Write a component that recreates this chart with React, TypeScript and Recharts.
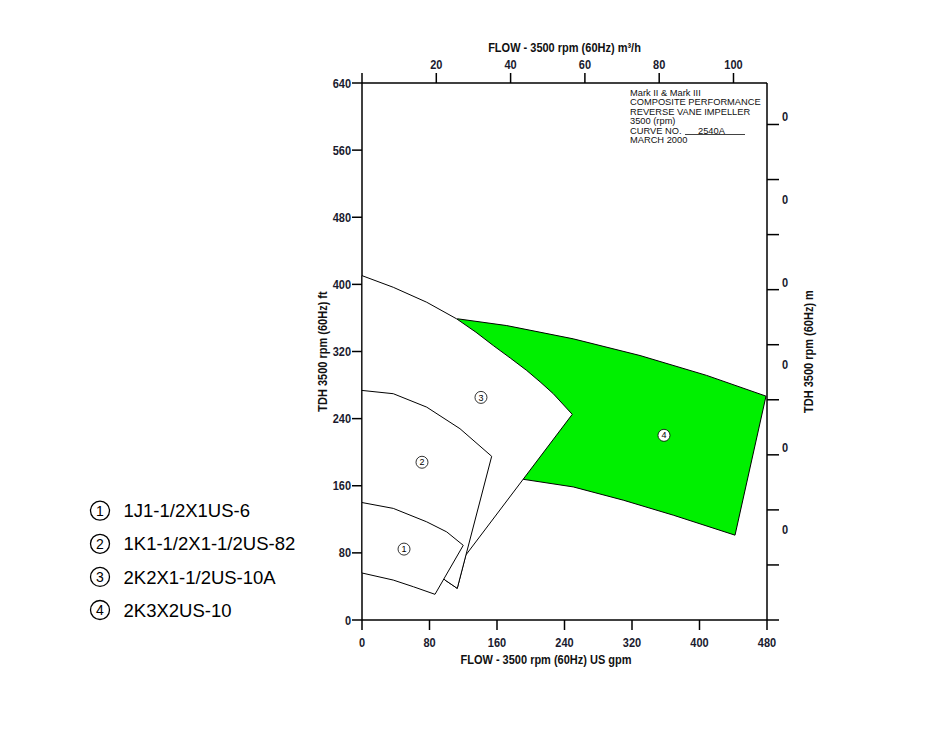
import React from "react";
import { ComposedChart, Scatter, XAxis, YAxis, Label } from "recharts";

// pump operating regions (flow in US gpm, head in ft)
const region1 = [
  { gpm: 0, ft: 56 }, { gpm: 37, ft: 47.6 }, { gpm: 61, ft: 39.6 }, { gpm: 86.5, ft: 30.6 },
  { gpm: 120, ft: 89 }, { gpm: 100.4, ft: 105 }, { gpm: 76.7, ft: 117 }, { gpm: 37.1, ft: 133 }, { gpm: 0, ft: 140 },
];
const region2 = [
  { gpm: 0, ft: 273.6 }, { gpm: 37.1, ft: 269.7 }, { gpm: 76.7, ft: 253.7 }, { gpm: 116.1, ft: 228 },
  { gpm: 153.7, ft: 195.1 }, { gpm: 112.9, ft: 37.7 }, { gpm: 98.4, ft: 47.6 }, { gpm: 0, ft: 140 },
];
const region3 = [
  { gpm: 0, ft: 410.4 }, { gpm: 37.1, ft: 396.5 }, { gpm: 76.7, ft: 378.7 }, { gpm: 112.2, ft: 358.9 },
  { gpm: 135, ft: 343 }, { gpm: 155.6, ft: 327.1 }, { gpm: 176, ft: 312 }, { gpm: 195.2, ft: 297.4 },
  { gpm: 212, ft: 283 }, { gpm: 226.7, ft: 269.7 }, { gpm: 249.2, ft: 245.1 },
  { gpm: 123, ft: 77.3 }, { gpm: 112.9, ft: 37.7 }, { gpm: 98.4, ft: 47.6 }, { gpm: 0, ft: 273.6 },
];
const region4 = [
  { gpm: 113, ft: 359 }, { gpm: 171.5, ft: 350.9 }, { gpm: 250.4, ft: 335.1 }, { gpm: 329.5, ft: 315.2 },
  { gpm: 408.5, ft: 291.5 }, { gpm: 478.8, ft: 266.8 }, { gpm: 442.1, ft: 101.1 }, { gpm: 369, ft: 124.9 },
  { gpm: 309.7, ft: 142.8 }, { gpm: 250.4, ft: 158.6 }, { gpm: 191, ft: 167.7 },
];
const regionMarks = [
  { gpm: 49.8, ft: 84.5, n: 1 },
  { gpm: 71.1, ft: 188, n: 2 },
  { gpm: 141, ft: 265.3, n: 3 },
  { gpm: 357.9, ft: 220.1, n: 4 },
];

const models = ["1J1-1/2X1US-6", "1K1-1/2X1-1/2US-82", "2K2X1-1/2US-10A", "2K3X2US-10"];
const notes = ["Mark II & Mark III", "COMPOSITE PERFORMANCE", "REVERSE VANE IMPELLER", "3500 (rpm)", "CURVE NO.", "MARCH 2000"];
const curveNo = "2540A";

const gpmTicks = [0, 80, 160, 240, 320, 400, 480];
const ftTicks = [0, 80, 160, 240, 320, 400, 480, 560, 640];
const m3hTicks = [0, 20, 40, 60, 80, 100];
const mTicks = [0, 20, 40, 60, 80, 100, 120, 140, 160, 180];
const mLabelTicks = [30, 60, 90, 120, 150, 180];
const mLabels = ["0", "0", "0", "0", "0", "0"];

// unit conversions for the secondary axes
const GPM_PER_M3H = 4.4029;
const FT_PER_M = 3.2808;
const metricMarks = regionMarks.map((p) => ({ m3h: p.gpm / GPM_PER_M3H, m: p.ft / FT_PER_M }));

const W = 900;
const H = 700;
const sans = "'Liberation Sans', Arial, Helvetica, sans-serif";
const boldFont = { fontFamily: sans, fontWeight: 700, fontSize: 12.5, fill: "#1a1a2e" };
const axisStroke = { stroke: "#000", strokeWidth: 1.5 };
const squeeze = 0.88;

const axisTitle = (text: string, dx: number, dy: number, angle = 0) => (props: any) => {
  const vb = props.viewBox || {};
  const cx = vb.x + vb.width / 2 + dx;
  const cy = vb.y + vb.height / 2 + dy;
  return (
    <text
      x={0}
      y={0}
      dy="0.36em"
      textAnchor="middle"
      transform={`translate(${cx},${cy}) rotate(${angle}) scale(${squeeze},1)`}
      style={{ ...boldFont, fill: "#111" }}
    >
      {text}
    </text>
  );
};

// condensed bold tick label; shift puts the baseline relative to the tick point
const makeTick = (shift: number, format?: (v: number) => string) => (props: any) => {
  const { x, y, payload, textAnchor } = props;
  const v = payload.value;
  const s = format ? format(v) : String(v);
  return (
    <text x={0} y={0} textAnchor={textAnchor} transform={`translate(${x},${y + shift}) scale(${squeeze},1)`} style={boldFont}>
      {s}
    </text>
  );
};

const polygon = (fill: string) => (props: any) => {
  const pts = (props.points || []).filter((p: any) => p.x != null && p.y != null);
  if (!pts.length) return <g />;
  const d = "M" + pts.map((p: any) => `${p.x},${p.y}`).join("L") + "Z";
  return <path d={d} fill={fill} stroke="#000" strokeWidth={1} strokeLinejoin="round" />;
};

const noDot = () => <g />;

const markShape = (props: any) => {
  const { cx, cy, payload } = props;
  return (
    <g>
      <circle cx={cx} cy={cy} r={6} fill="#fff" stroke="#000" strokeWidth={0.8} />
      <text x={cx} y={cy} dy="0.35em" textAnchor="middle" style={{ fontFamily: sans, fontSize: 9 }}>
        {payload.n}
      </text>
    </g>
  );
};

export default function App() {
  return (
    <div style={{ position: "relative", width: W, height: H }}>
      <ComposedChart width={W} height={H} margin={{ top: 35, right: 79, bottom: 38, left: 294 }}>
        <Scatter data={region4} xAxisId="gpm" yAxisId="ft" line={polygon("#00f000")} shape={noDot} isAnimationActive={false} legendType="none" />
        <Scatter data={region3} xAxisId="gpm" yAxisId="ft" line={polygon("#fff")} shape={noDot} isAnimationActive={false} legendType="none" />
        <Scatter data={region2} xAxisId="gpm" yAxisId="ft" line={polygon("#fff")} shape={noDot} isAnimationActive={false} legendType="none" />
        <Scatter data={region1} xAxisId="gpm" yAxisId="ft" line={polygon("#fff")} shape={noDot} isAnimationActive={false} legendType="none" />
        <Scatter data={regionMarks} xAxisId="gpm" yAxisId="ft" shape={markShape} isAnimationActive={false} legendType="none" />
        {/* same marks in metric units, invisible; ties the m3/h and m axes to data */}
        <Scatter data={metricMarks} xAxisId="m3h" yAxisId="m" shape={noDot} isAnimationActive={false} legendType="none" />

        <XAxis xAxisId="gpm" dataKey="gpm" type="number" orientation="bottom" domain={[0, 480]} ticks={gpmTicks}
          interval={0} height={50} tickSize={10} tickMargin={8} tick={makeTick(9)} axisLine={axisStroke} tickLine={axisStroke}>
          <Label content={axisTitle("FLOW - 3500 rpm (60Hz) US gpm", -18.5, 14)} />
        </XAxis>
        <XAxis xAxisId="m3h" dataKey="m3h" type="number" orientation="top" domain={[0, 109.02]} allowDataOverflow ticks={m3hTicks}
          interval={0} height={40} tickSize={10} tickMargin={3} axisLine={axisStroke} tickLine={axisStroke}
          tick={makeTick(-1, (v: number) => (v === 0 ? "" : String(v)))}>
          <Label content={axisTitle("FLOW - 3500 rpm (60Hz)  m\u00b3/h", 0, -16)} />
        </XAxis>
        <YAxis yAxisId="ft" dataKey="ft" type="number" orientation="left" domain={[0, 640]} ticks={ftTicks}
          interval={0} width={60} tickSize={10} tickMargin={1} tick={makeTick(4.5)} axisLine={axisStroke} tickLine={axisStroke}>
          <Label content={axisTitle("TDH 3500 rpm (60Hz) ft", -10, 0, -90)} />
        </YAxis>
        <YAxis yAxisId="m" dataKey="m" type="number" orientation="right" domain={[0, 195.07]} allowDataOverflow ticks={mTicks}
          interval={0} width={12} tickSize={12} tick={noDot} axisLine={axisStroke} tickLine={axisStroke} />
        <YAxis yAxisId="mlab" type="number" orientation="right" domain={[0, 195.07]} allowDataOverflow ticks={mLabelTicks}
          interval={0} width={50} tickSize={0} tickMargin={3} axisLine={false} tickLine={false}
          tick={makeTick(-3, (v: number) => mLabels[mLabelTicks.indexOf(v)])}>
          <Label content={axisTitle("TDH 3500 rpm (60Hz) m", 4, 0, -90)} />
        </YAxis>
      </ComposedChart>

      <svg width={W} height={H} style={{ position: "absolute", left: 0, top: 0, pointerEvents: "none" }}>
        <g style={{ fontFamily: sans, fontSize: 9.3, fill: "#111" }}>
          {notes.map((t, i) => (
            <text key={t} x={622} y={87.8 + i * 9.5}>{t}</text>
          ))}
          <text x={690} y={87.8 + 4 * 9.5}>{curveNo}</text>
          <line x1={677} x2={737} y1={126.5} y2={126.5} stroke="#111" strokeWidth={0.8} />
        </g>
        <g style={{ fontFamily: sans }}>
          {models.map((m, i) => (
            <g key={m}>
              <circle cx={92} cy={502.7 + i * 33.1} r={9.5} fill="none" stroke="#000" strokeWidth={1.3} />
              <text x={92} y={502.7 + i * 33.1} dy="0.36em" textAnchor="middle" style={{ fontSize: 14 }}>
                {i + 1}
              </text>
              <text x={115.5} y={502.7 + i * 33.1} dy="0.36em" style={{ fontSize: 18.5 }}>
                {m}
              </text>
            </g>
          ))}
        </g>
      </svg>
    </div>
  );
}
